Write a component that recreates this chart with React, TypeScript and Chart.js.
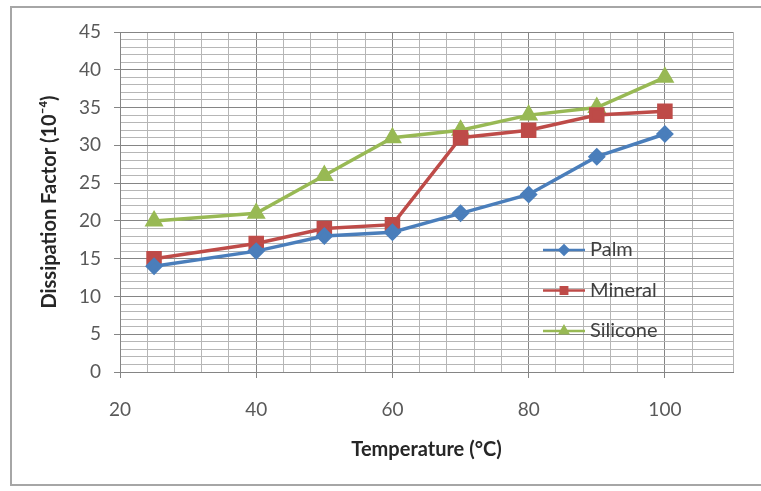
import React, { useEffect, useRef } from 'react';
import { Chart, registerables } from 'chart.js';
import { drawPoint } from 'chart.js/helpers';

Chart.register(...registerables);

const temperatures = [25, 40, 50, 60, 70, 80, 90, 100];
const palm = [14, 16, 18, 18.5, 21, 23.5, 28.5, 31.5];
const mineral = [15, 17, 19, 19.5, 31, 32, 34, 34.5];
const silicone = [20, 21, 26, 31, 32, 34, 35, 39];
const seriesNames = ['Palm', 'Mineral', 'Silicone'];
const xTickLabels = [20, 40, 60, 80, 100];
const yTickLabels = [0, 5, 10, 15, 20, 25, 30, 35, 40, 45];

const colors = ['#4a7ebb', '#be4b48', '#98b954'];
const pointStyles = ['rectRot', 'rect', 'triangle'];
const pointRadii = [6.5, 8.5, 7.5];

const MAJOR = '#858585';
const MINOR = '#b6b6b6';
const FONT = 'Lato, "Open Sans", sans-serif';

const insideLegend = {
  id: 'insideLegend',
  afterDraw(chart: any) {
    const ctx = chart.ctx;
    const x0 = 543;
    const x1 = 585;
    const yStart = 250;
    const step = 40.5;
    ctx.save();
    chart.data.datasets.forEach((ds: any, i: number) => {
      const y = yStart + i * step;
      ctx.strokeStyle = ds.borderColor;
      ctx.lineWidth = 2.5;
      ctx.beginPath();
      ctx.moveTo(x0, y);
      ctx.lineTo(x1, y);
      ctx.stroke();
      ctx.fillStyle = ds.borderColor;
      ctx.strokeStyle = ds.borderColor;
      drawPoint(ctx, { pointStyle: ds.pointStyle, rotation: 0, radius: 4.5, borderWidth: 1 }, (x0 + x1) / 2, y);
      ctx.fillStyle = '#404040';
      ctx.font = `20px ${FONT}`;
      ctx.textAlign = 'left';
      ctx.textBaseline = 'middle';
      ctx.fillText(ds.label, x1 + 5, y);
    });
    ctx.restore();
  },
};

export default function App() {
  const ref = useRef<HTMLCanvasElement | null>(null);

  useEffect(() => {
    if (!ref.current) return;
    const series = [palm, mineral, silicone];
    const chart = new Chart(ref.current, {
      type: 'line',
      data: {
        datasets: series.map((vals, i) => ({
          label: seriesNames[i],
          data: temperatures.map((t, j) => ({ x: t, y: vals[j] })),
          borderColor: colors[i],
          backgroundColor: colors[i],
          pointBackgroundColor: colors[i],
          pointBorderColor: colors[i],
          pointStyle: pointStyles[i],
          pointRadius: pointRadii[i],
          borderWidth: 3.5,
          tension: 0,
          fill: false,
        })),
      },
      options: {
        responsive: false,
        animation: false,
        layout: { padding: { top: 32, right: 28, left: 0, bottom: 0 } },
        plugins: {
          legend: { display: false },
          tooltip: { enabled: false },
        },
        scales: {
          x: {
            type: 'linear',
            min: 20,
            max: 110,
            afterFit: (s: any) => {
              s.height = 119;
            },
            ticks: {
              stepSize: 4,
              autoSkip: false,
              maxRotation: 0,
              padding: 20,
              color: '#595959',
              font: { family: FONT, size: 19 },
              callback: (v: any) => (xTickLabels.includes(Number(v)) ? String(v) : ''),
            },
            grid: {
              color: (c: any) => (xTickLabels.includes(c.tick?.value) ? MAJOR : MINOR),
              tickColor: (c: any) => (xTickLabels.includes(c.tick?.value) ? MAJOR : 'rgba(0,0,0,0)'),
              tickLength: 6,
              lineWidth: 1,
            },
            border: { color: MAJOR, width: 1 },
            title: {
              display: true,
              text: 'Temperature (°C)',
              color: '#262626',
              font: { family: FONT, size: 20, weight: 'bold' },
              padding: { top: 0, bottom: 29 },
            },
          },
          y: {
            type: 'linear',
            min: 0,
            max: 45,
            afterFit: (s: any) => {
              s.width = 120;
            },
            ticks: {
              stepSize: 1,
              autoSkip: false,
              padding: 13,
              color: '#595959',
              font: { family: FONT, size: 19 },
              callback: (v: any) => (yTickLabels.includes(Number(v)) ? String(v) : ''),
            },
            grid: {
              color: (c: any) => (yTickLabels.includes(c.tick?.value) ? MAJOR : MINOR),
              tickColor: (c: any) => (yTickLabels.includes(c.tick?.value) ? MAJOR : 'rgba(0,0,0,0)'),
              tickLength: 6,
              lineWidth: 1,
            },
            border: { color: MAJOR, width: 1 },
            title: {
              display: true,
              text: 'Dissipation Factor (10⁻⁴)',
              color: '#262626',
              font: { family: FONT, size: 20, weight: 'bold' },
              padding: { top: 38, bottom: 0 },
            },
          },
        },
      },
      plugins: [insideLegend],
    } as any);
    return () => chart.destroy();
  }, []);

  return (
    <div
      style={{
        position: 'fixed',
        left: 0,
        top: 0,
        width: 761,
        height: 491,
        overflow: 'hidden',
        background: '#ffffff',
      }}
    >
      <div
        style={{
          position: 'absolute',
          left: 10,
          top: 6,
          width: 800,
          height: 480,
          border: '2px solid #a6a6a6',
          boxSizing: 'border-box',
        }}
      />
      <canvas
        ref={ref}
        width={761}
        height={491}
        style={{ position: 'absolute', left: 0, top: 0, width: 761, height: 491 }}
      />
    </div>
  );
}
